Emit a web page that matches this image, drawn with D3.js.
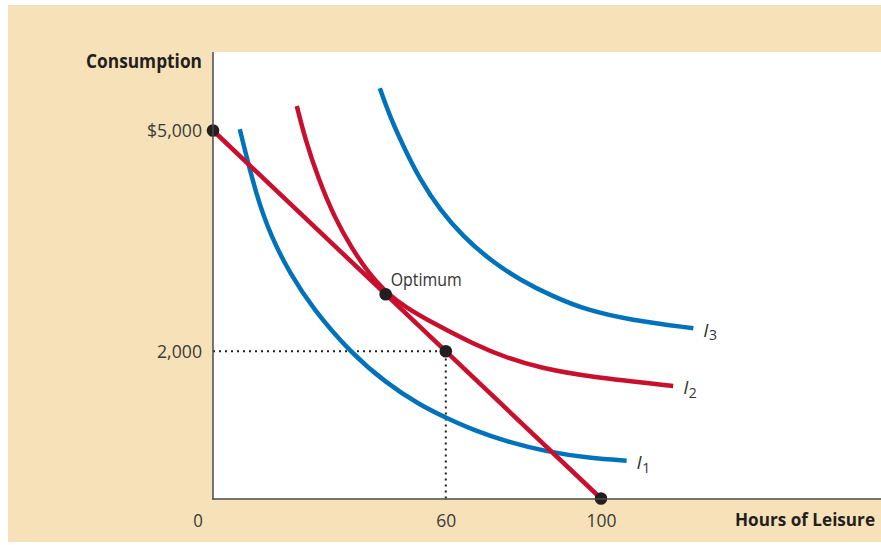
<!DOCTYPE html>
<html>
<head>
<meta charset="utf-8">
<script src="https://cdn.jsdelivr.net/npm/d3@7"></script>
<style>
  html, body { margin: 0; padding: 0; background: #ffffff; }
  svg { display: block; }
  text { font-family: "Open Sans", "DejaVu Sans", sans-serif; }
</style>
</head>
<body>
<svg id="chart" width="881" height="545"></svg>
<script>
// ---------- data ----------
const xTicks = [0, 60, 100];
const xTickLabels = ["0", "60", "100"];
const yTicks = [2000, 5000];
const yTickLabels = ["2,000", "$5,000"];
const xTitle = "Hours of Leisure";
const yTitle = "Consumption";

// budget line: (leisure, consumption)
const budget = [[0, 5000], [100, 0]];
const budgetEnds = [[0, 5000], [100, 0]];
const chosenPoint = [60, 2000];
const optimumPoint = [44.5, 2775];
const optimumLabel = "Optimum";

// indifference curves
const curveI1 = [[6.9,5016],[11.2,4101],[15.0,3557],[19.8,3060],[25.8,2575],[35.2,1995],
  [44.7,1565],[53.3,1270],[60.1,1094],[67.0,931],[75.7,772],[86.0,636],[97.2,546],[106.6,514]];
const curveI2 = [[21.6,5333],[23.7,4894],[27.1,4351],[31.4,3807],[35.8,3399],[40.0,3070],[44.3,2815],
  [49.5,2600],[57.2,2370],[67.1,2100],[75.7,1910],[84.3,1775],[97.2,1650],[118.6,1530]];
const curveI3 = [[43.0,5573],[45.6,5188],[49.1,4780],[53.4,4327],[58.5,3920],[64.5,3557],[71.4,3240],
  [79.1,2969],[87.7,2742],[96.3,2561],[107.4,2425],[123.8,2313]];
const curveNames = ["1", "2", "3"];

// ---------- styles ----------
const TAN = "#f6e1b8", BLUE = "#0072bc", RED = "#c8102e", DARK = "#231f20", AXIS = "#4a4a4a";

const svg = d3.select("#chart");
svg.append("rect").attr("x", 8).attr("y", 5).attr("width", 873).attr("height", 537).attr("fill", TAN);
svg.append("rect").attr("x", 213).attr("y", 52).attr("width", 668).attr("height", 447).attr("fill", "#ffffff");

const x = d3.scaleLinear().domain([0, 100]).range([213, 601]);
const y = d3.scaleLinear().domain([0, 5000]).range([498.5, 130.5]);

const line = d3.line().x(d => x(d[0])).y(d => y(d[1]));
const smooth = d3.line().x(d => x(d[0])).y(d => y(d[1])).curve(d3.curveBasis);

// dotted guide lines
const g = svg.append("g");
g.append("path")
  .attr("d", line([[0, chosenPoint[1]], chosenPoint, [chosenPoint[0], 0]]))
  .attr("fill", "none").attr("stroke", DARK).attr("stroke-width", 2)
  .attr("stroke-dasharray", "2,4");

// indifference curves
[[curveI1, BLUE], [curveI3, BLUE], [curveI2, RED]].forEach(([data, col]) => {
  g.append("path").attr("d", smooth(data)).attr("fill", "none")
    .attr("stroke", col).attr("stroke-width", 4.5);
});

// budget line
g.append("path").attr("d", line(budget)).attr("fill", "none")
  .attr("stroke", RED).attr("stroke-width", 4.5);

// axes lines
svg.append("line").attr("x1", 213).attr("x2", 213).attr("y1", 52).attr("y2", 499.5)
  .attr("stroke", AXIS).attr("stroke-width", 1.5);
svg.append("line").attr("x1", 212.25).attr("x2", 881).attr("y1", 499).attr("y2", 499)
  .attr("stroke", AXIS).attr("stroke-width", 1.5);

// tick labels via axes
const xAxis = d3.axisBottom(x).tickValues(xTicks).tickSize(0).tickPadding(0)
  .tickFormat((d, i) => xTickLabels[i]);
const xg = svg.append("g").attr("transform", "translate(0,499)").call(xAxis);
xg.select(".domain").remove();
xg.selectAll("text").attr("font-size", 19).attr("fill", "#3a3a3a")
  .attr("font-family", "'Open Sans', sans-serif")
  .attr("dy", null).attr("y", 27.5)
  .attr("dx", d => d === 0 ? -15.5 : 0)
  .attr("textLength", (d, i) => [9.6, 20, 30][i]).attr("lengthAdjust", "spacingAndGlyphs");

const yAxis = d3.axisLeft(y).tickValues(yTicks).tickSize(0).tickPadding(11)
  .tickFormat((d, i) => yTickLabels[i]);
const yg = svg.append("g").attr("transform", "translate(213,0)").call(yAxis);
yg.select(".domain").remove();
yg.selectAll("text").attr("font-size", 19).attr("fill", "#3a3a3a")
  .attr("font-family", "'Open Sans', sans-serif")
  .attr("dy", "0.34em")
  .attr("textLength", (d, i) => [45, 55][i]).attr("lengthAdjust", "spacingAndGlyphs");

// axis titles
svg.append("text").attr("x", 202).attr("y", 68).attr("text-anchor", "end")
  .attr("font-size", 19).attr("font-weight", "bold").attr("fill", DARK)
  .attr("textLength", 116).attr("lengthAdjust", "spacingAndGlyphs").text(yTitle);
svg.append("text").attr("x", 875).attr("y", 526).attr("text-anchor", "end")
  .attr("font-size", 18.5).attr("font-weight", "bold").attr("fill", DARK)
  .attr("textLength", 140).attr("lengthAdjust", "spacingAndGlyphs").text(xTitle);

// dots
const dots = [budgetEnds[0], optimumPoint, chosenPoint, budgetEnds[1]];
g.selectAll("circle.pt").data(dots).join("circle").attr("class", "pt")
  .attr("cx", d => x(d[0])).attr("cy", d => y(d[1])).attr("r", 6.3).attr("fill", DARK);

// optimum label
svg.append("text").attr("x", x(optimumPoint[0]) + 5).attr("y", y(optimumPoint[1]) - 8.5)
  .attr("font-size", 19).attr("fill", "#333333")
  .attr("textLength", 71).attr("lengthAdjust", "spacingAndGlyphs").text(optimumLabel);

// curve labels
const curves = [curveI1, curveI2, curveI3];
curves.forEach((c, i) => {
  const last = c[c.length - 1];
  const t = svg.append("text").attr("x", x(last[0]) + 10).attr("y", y(last[1]) + 8.5)
    .attr("fill", "#333333");
  t.append("tspan").attr("font-size", 19).attr("font-style", "italic").text("I");
  t.append("tspan").attr("font-size", 14).attr("dy", 3.5).attr("dx", 0.5).text(curveNames[i]);
});
</script>
</body>
</html>
